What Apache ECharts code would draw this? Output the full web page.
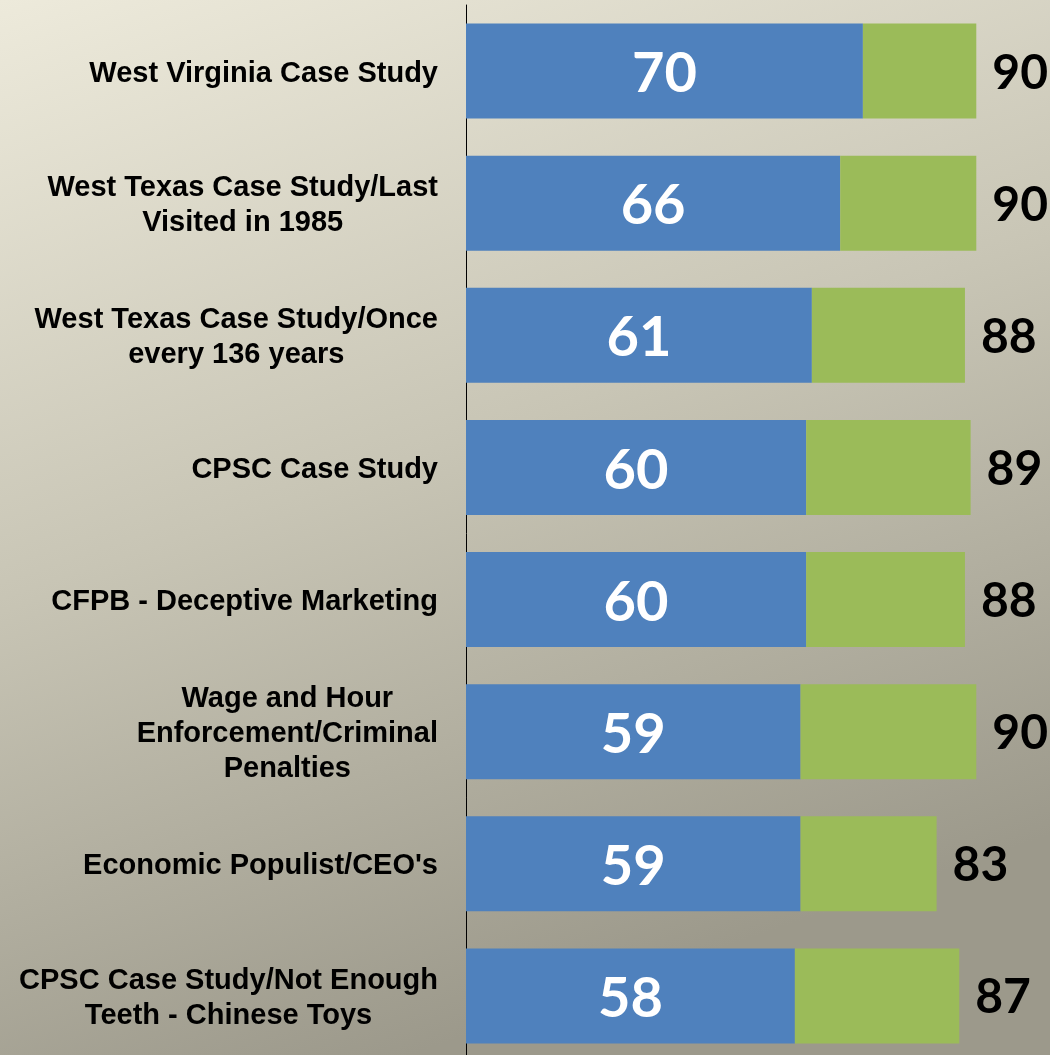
<!DOCTYPE html>
<html>
<head>
<meta charset="utf-8">
<script src="https://cdn.jsdelivr.net/npm/echarts@6/dist/echarts.min.js"></script>
<style>
  html, body { margin: 0; padding: 0; overflow: hidden; }
  #chart { width: 1050px; height: 1070px; }
</style>
</head>
<body>
<div id="chart"></div>
<script>
// categories, top to bottom
const categories = [
  'West Virginia Case Study',
  'West Texas Case Study/Last\nVisited in 1985',
  'West Texas Case Study/Once\nevery 136 years',
  'CPSC Case Study',
  'CFPB - Deceptive Marketing',
  'Wage and Hour\nEnforcement/Criminal\nPenalties',
  "Economic Populist/CEO's",
  'CPSC Case Study/Not Enough\nTeeth - Chinese Toys'
];
// blue part (value shown inside the bar)
const blueValues = [70, 66, 61, 60, 60, 59, 59, 58];
// full bar length (value shown to the right)
const totalValues = [90, 90, 88, 89, 88, 90, 83, 87];

const greenValues = totalValues.map((t, i) => t - blueValues[i]);

var myChart = echarts.init(document.getElementById('chart'));

myChart.setOption({
  animation: false,
  backgroundColor: new echarts.graphic.LinearGradient(0, 0, 0.35, 1, [
    { offset: 0, color: '#edeadb' },
    { offset: 0.5, color: '#c8c5b5' },
    { offset: 1, color: '#9c998b' }
  ]),
  grid: {
    left: 466,
    right: 0,
    top: 5,
    height: 1057,
    containLabel: false
  },
  xAxis: {
    type: 'value',
    min: 0,
    max: 103,
    show: false,
    splitLine: { show: false }
  },
  yAxis: {
    type: 'category',
    inverse: true,
    data: categories,
    axisLine: { show: true, lineStyle: { color: '#000', width: 1 } },
    axisTick: { show: false },
    axisLabel: {
      margin: 28,
      padding: [5, 0, 0, 0],
      formatter: function (v) {
        return v.split('\n').map(s => '{c|' + s + '}').join('\n');
      },
      rich: {
        c: {
          align: 'center',
          fontFamily: 'Liberation Sans',
          fontWeight: 'bold',
          fontSize: 29,
          lineHeight: 35,
          color: '#000'
        }
      }
    }
  },
  series: [
    {
      name: 'blue',
      type: 'bar',
      stack: 'total',
      barWidth: 95,
      data: blueValues,
      itemStyle: { color: '#4f81bd' },
      label: {
        show: true,
        position: 'inside',
        offset: [0, 3],
        color: '#fff',
        fontFamily: 'Lato, sans-serif',
        fontWeight: 'bold',
        fontSize: 56
      }
    },
    {
      name: 'green',
      type: 'bar',
      stack: 'total',
      barWidth: 95,
      data: greenValues,
      itemStyle: { color: '#9bbb59' },
      label: {
        show: true,
        position: 'right',
        distance: 16,
        offset: [0, 2],
        color: '#000',
        fontFamily: 'Lato, sans-serif',
        fontWeight: 'bold',
        fontSize: 48,
        formatter: function (p) {
          return totalValues[p.dataIndex];
        }
      }
    }
  ]
});
</script>
</body>
</html>
